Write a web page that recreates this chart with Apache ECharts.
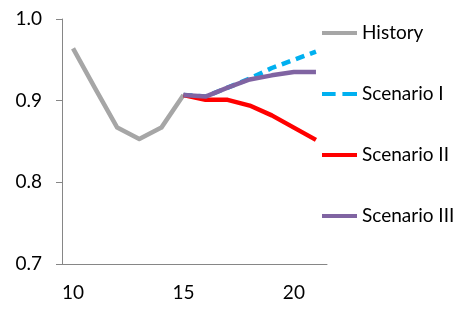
<!DOCTYPE html>
<html><head><meta charset="utf-8">
<script src="https://cdn.jsdelivr.net/npm/echarts@6/dist/echarts.min.js"></script>
<style>html,body{margin:0;padding:0;background:#fff}#c{width:461px;height:310px}</style>
</head><body><div id="c"></div>
<script>
const categories = ['10','11','12','13','14','15','16','17','18','19','20','21'];
const history    = [0.964, 0.915, 0.867, 0.853, 0.867, 0.907, null, null, null, null, null, null];
const scenario1  = [null, null, null, null, null, 0.907, 0.905, 0.916, 0.927, 0.940, 0.950, 0.960];
const scenario2  = [null, null, null, null, null, 0.907, 0.901, 0.901, 0.894, 0.882, 0.867, 0.852];
const scenario3  = [null, null, null, null, null, 0.907, 0.905, 0.916, 0.926, 0.931, 0.935, 0.935];
const yTicks = [0.7, 0.8, 0.9, 1.0];

const FONT = 'Lato';
const SOLID = 'path://M0,0h36v4h-36z';
const DASHED = 'path://M0,0h14v4h-14zM21,0h15v4h-15z';
const chart = echarts.init(document.getElementById('c'), null, {renderer:'canvas'});
function line(name, data, color, type){
  return {name, type:'line', data, symbol:'none', connectNulls:false, animation:false,
    lineStyle:{color, width:4.5, type: type||'solid', cap:'butt', join:'round'},
    itemStyle:{color}};
}
chart.setOption({
  animation:false,
  textStyle:{fontFamily:FONT},
  grid:{left:62, right:134, top:19, bottom:46},
  legend:{orient:'vertical', left:317, top:18, itemWidth:35, itemHeight:4, itemGap:41,
    textStyle:{fontFamily:FONT, fontSize:19, color:'#000', lineHeight:20},
    data:[{name:'History', icon:SOLID},{name:'Scenario I', icon:DASHED},
          {name:'Scenario II', icon:SOLID},{name:'Scenario III', icon:SOLID}]},
  xAxis:{type:'category', data:categories, boundaryGap:true,
    axisLine:{lineStyle:{color:'#868686', width:1}},
    axisTick:{interval:4, length:6, lineStyle:{color:'#868686'}},
    axisLabel:{interval:4, color:'#000', fontSize:19, fontFamily:FONT, margin:19}},
  yAxis:{type:'value', min:yTicks[0], max:yTicks[yTicks.length-1], interval:0.1,
    splitLine:{show:false},
    axisLine:{show:true, lineStyle:{color:'#868686', width:1}},
    axisTick:{show:true, length:6, lineStyle:{color:'#868686'}},
    axisLabel:{color:'#000', fontSize:19, fontFamily:FONT, margin:20, formatter:v=>v.toFixed(1)}},
  series:[
    line('History', history, '#a6a6a6'),
    line('Scenario I', scenario1, '#00b0f0', [9,6]),
    line('Scenario II', scenario2, '#ff0000'),
    line('Scenario III', scenario3, '#8064a2')
  ]
});
</script></body></html>
